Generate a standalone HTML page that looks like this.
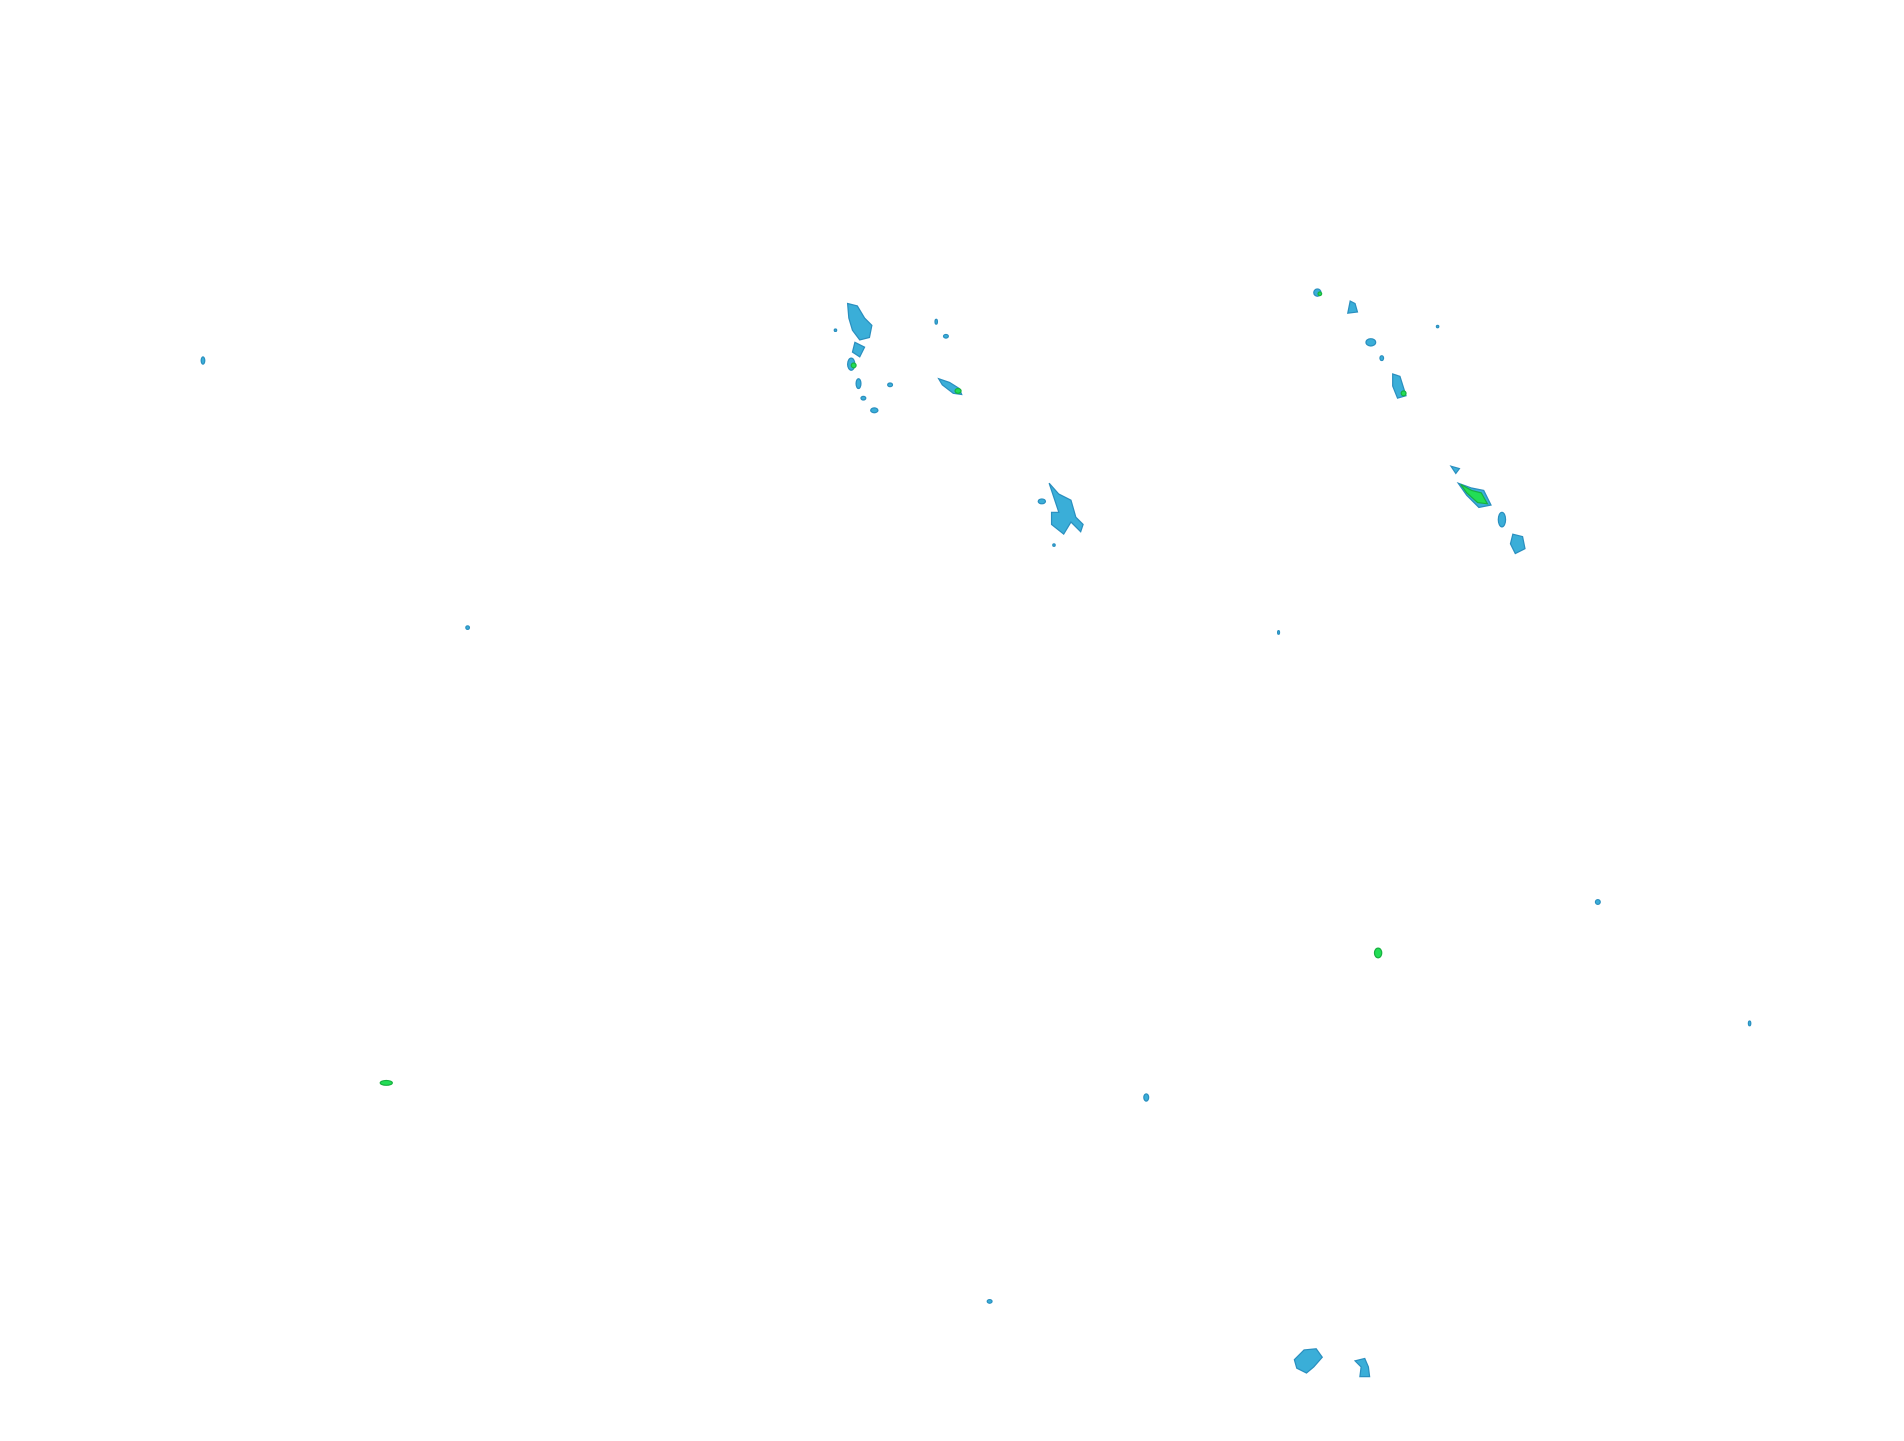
<!DOCTYPE html>
<html><head><meta charset="utf-8"><style>
html,body{margin:0;padding:0;background:#fff;width:1904px;height:1441px;overflow:hidden}
svg{display:block}
.b{fill:#3aaed8;stroke:#2a8fbf;stroke-width:1}
.g{fill:#22dd55;stroke:#18b040;stroke-width:1}
</style></head><body>
<svg width="1904" height="1441" viewBox="0 0 1568 1187" xmlns="http://www.w3.org/2000/svg">
<ellipse class="b" cx="167" cy="297" rx="1.5" ry="3"/>
<!-- cluster left -->
<path class="b" d="M698 250 L706 252 L712 262 L718 268 L716 278 L708 280 L702 272 L699 262 Z"/>
<path class="b" d="M704 282 L712 286 L708 294 L702 290 Z"/>
<ellipse class="b" cx="701" cy="300" rx="3" ry="5"/>
<ellipse class="g" cx="703" cy="301" rx="2" ry="2"/>
<ellipse class="b" cx="707" cy="316" rx="2" ry="4"/>
<ellipse class="b" cx="711" cy="328" rx="2" ry="1.5"/>
<ellipse class="b" cx="720" cy="338" rx="3" ry="2"/>
<ellipse class="b" cx="733" cy="317" rx="2" ry="1.5"/>
<ellipse class="b" cx="688" cy="272" rx="1" ry="1"/>
<ellipse class="b" cx="771" cy="265" rx="1" ry="2"/>
<ellipse class="b" cx="779" cy="277" rx="2" ry="1.5"/>
<path class="b" d="M773 312 L782 315 L790 320 L792 325 L785 324 L776 317 Z"/>
<ellipse class="g" cx="789" cy="322" rx="2.5" ry="2"/>
<!-- middle -->
<path class="b" d="M864 398 L872 407 L882 412 L886 426 L892 432 L890 438 L882 430 L876 440 L866 432 L866 422 L872 422 Z"/>
<ellipse class="b" cx="858" cy="413" rx="3" ry="2"/>
<ellipse class="b" cx="868" cy="449" rx="1" ry="1"/>
<!-- right top -->
<ellipse class="b" cx="1085" cy="241" rx="3" ry="3"/>
<ellipse class="g" cx="1087" cy="242" rx="1.5" ry="1.5"/>
<path class="b" d="M1112 248 L1116 250 L1118 257 L1110 258 Z"/>
<ellipse class="b" cx="1129" cy="282" rx="4" ry="3"/>
<ellipse class="b" cx="1138" cy="295" rx="1.5" ry="2"/>
<path class="b" d="M1147 308 L1153 310 L1158 326 L1151 328 L1147 318 Z"/>
<ellipse class="g" cx="1156" cy="324" rx="2" ry="2"/>
<ellipse class="b" cx="1184" cy="269" rx="1" ry="1"/>
<!-- green elongated -->
<path class="b" d="M1195 384 L1202 386 L1199 390 Z"/>
<path class="b" d="M1201 398 L1212 402 L1222 404 L1228 416 L1218 418 L1208 408 Z"/>
<path class="g" d="M1203 399 L1212 404 L1220 406 L1225 415 L1217 414 L1208 406 Z"/>
<ellipse class="b" cx="1237" cy="428" rx="3" ry="6"/>
<path class="b" d="M1246 440 L1254 442 L1256 452 L1248 456 L1244 448 Z"/>
<ellipse class="b" cx="1053" cy="521" rx="0.8" ry="1.5"/>
<ellipse class="b" cx="385" cy="517" rx="1.5" ry="1.5"/>
<!-- bottom -->
<ellipse class="b" cx="1316" cy="743" rx="2" ry="2"/>
<ellipse class="g" cx="1135" cy="785" rx="3" ry="4"/>
<ellipse class="b" cx="1441" cy="843" rx="1" ry="2"/>
<ellipse class="g" cx="318" cy="892" rx="5" ry="2"/>
<ellipse class="b" cx="944" cy="904" rx="2" ry="3"/>
<ellipse class="b" cx="815" cy="1072" rx="2" ry="1.5"/>
<path class="b" d="M1066 1120 L1074 1112 L1084 1111 L1089 1118 L1082 1126 L1076 1131 L1068 1127 Z"/>
<path class="b" d="M1116 1121 L1124 1119 L1127 1126 L1128 1134 L1120 1134 L1121 1126 Z"/>
</svg>
</body></html>
